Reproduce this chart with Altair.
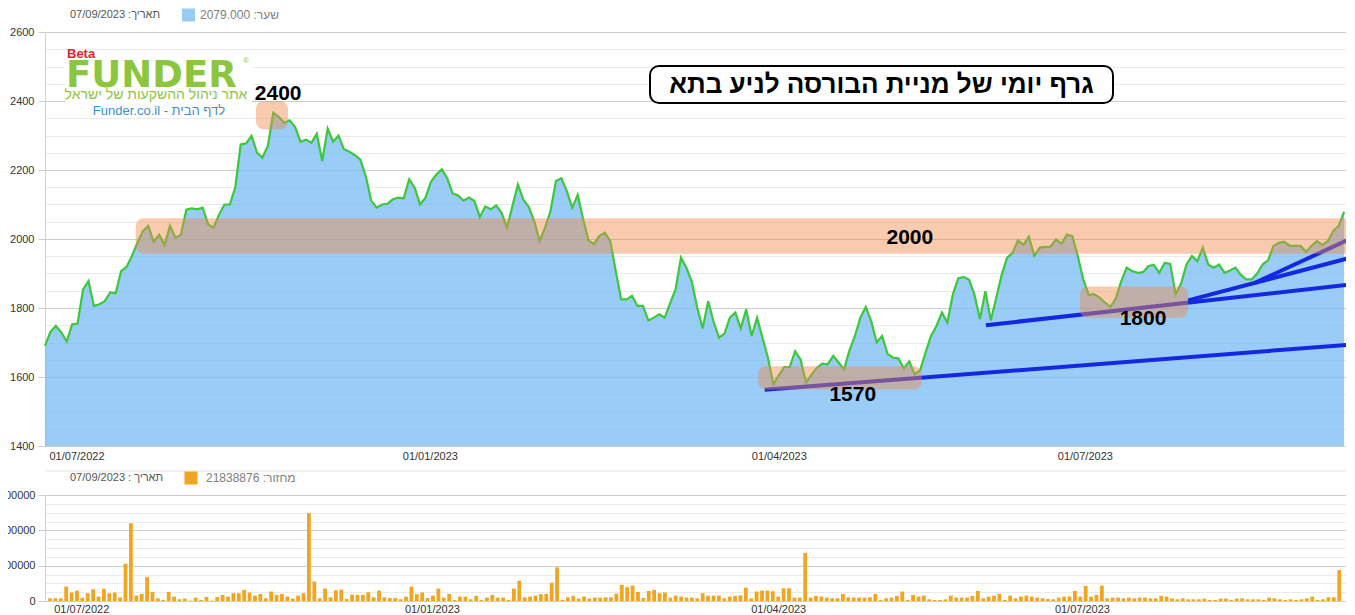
import altair as alt
import pandas as pd

# ---------------- data ----------------
price = [
    1690, 1731, 1748, 1729, 1703, 1753, 1755, 1854, 1878, 1806,
    1811, 1820, 1845, 1843, 1907, 1919, 1951, 1989, 2023, 2038,
    1992, 2012, 1983, 2038, 2004, 2012, 2085, 2089, 2086, 2091,
    2043, 2033, 2070, 2100, 2100, 2149, 2274, 2277, 2299, 2250,
    2236, 2270, 2366, 2354, 2337, 2344, 2325, 2282, 2288, 2279,
    2305, 2226, 2320, 2282, 2300, 2260, 2253, 2243, 2231, 2183,
    2112, 2091, 2100, 2102, 2115, 2120, 2118, 2173, 2149, 2100,
    2120, 2166, 2187, 2202, 2176, 2132, 2126, 2111, 2120, 2110,
    2064, 2094, 2086, 2097, 2076, 2033, 2096, 2158, 2114, 2093,
    2052, 1994, 2033, 2081, 2168, 2176, 2139, 2091, 2128, 2057,
    1996, 1985, 2009, 2018, 1994, 1907, 1825, 1825, 1835, 1806,
    1806, 1764, 1772, 1782, 1772, 1813, 1854, 1946, 1917, 1876,
    1801, 1741, 1820, 1760, 1714, 1726, 1772, 1787, 1741, 1796,
    1719, 1772, 1714, 1656, 1579, 1605, 1629, 1629, 1675, 1651,
    1584, 1606, 1627, 1639, 1637, 1661, 1642, 1622, 1677, 1719,
    1772, 1803, 1762, 1700, 1719, 1667, 1656, 1654, 1625, 1645,
    1608, 1620, 1671, 1719, 1748, 1787, 1758, 1838, 1886, 1890,
    1882, 1838, 1768, 1849, 1764, 1830, 1896, 1946, 1960, 1996,
    1983, 2007, 1951, 1975, 1977, 1978, 1999, 1986, 2013, 2008,
    1951, 1883, 1838, 1840, 1830, 1816, 1803, 1828, 1878, 1917,
    1907, 1902, 1904, 1922, 1925, 1902, 1931, 1928, 1840, 1871,
    1926, 1951, 1936, 1975, 1926, 1917, 1926, 1902, 1909, 1917,
    1896, 1883, 1883, 1900, 1926, 1938, 1980, 1989, 1992, 1980,
    1980, 1980, 1963, 1980, 1994, 1983, 1994, 2023, 2038, 2079,
]

# turnover, millions of shares
volume_m = [
    1.9, 1.9, 1.9, 10.2, 6.0, 7.4, 2.4, 5.5, 8.3, 3.1,
    8.6, 5.5, 6.0, 2.6, 26.4, 55.0, 3.8, 5.0, 16.9, 6.4,
    1.9, 0.7, 6.4, 3.1, 1.2, 1.7, 0.3, 2.4, 0.7, 2.9,
    0.3, 2.9, 4.3, 3.1, 5.5, 5.5, 7.9, 6.0, 3.8, 5.0,
    1.9, 6.7, 4.3, 5.0, 3.1, 1.7, 3.8, 5.5, 62.1, 13.8,
    1.9, 8.8, 2.6, 7.6, 8.1, 1.4, 4.5, 4.3, 4.3, 6.2,
    2.6, 7.4, 2.6, 2.1, 2.1, 1.2, 3.1, 10.2, 4.8, 6.0,
    2.1, 3.8, 8.8, 2.4, 5.0, 0.7, 3.1, 3.1, 1.2, 3.6,
    0.7, 2.4, 4.3, 2.4, 2.4, 0.7, 8.8, 14.3, 2.6, 3.1,
    3.8, 4.8, 5.0, 12.9, 23.8, 0.7, 2.6, 3.6, 1.7, 3.1,
    1.7, 2.4, 2.4, 2.6, 2.6, 5.2, 11.4, 9.8, 10.9, 6.4,
    2.1, 7.1, 7.9, 5.5, 6.0, 2.4, 3.8, 3.1, 2.4, 2.4,
    1.9, 5.5, 3.8, 3.8, 3.8, 1.9, 3.1, 3.6, 4.0, 9.5,
    1.9, 6.7, 7.4, 7.4, 6.9, 3.1, 9.0, 9.0, 2.4, 2.4,
    34.0, 2.4, 3.6, 3.1, 2.4, 1.9, 1.9, 5.0, 2.6, 2.4,
    2.4, 2.4, 2.6, 5.0, 0.7, 1.9, 2.4, 3.6, 6.7, 0.7,
    4.3, 3.1, 3.8, 1.2, 0.7, 0.7, 1.2, 3.8, 2.4, 2.4,
    2.4, 3.6, 7.1, 1.9, 3.1, 3.8, 5.0, 0.7, 3.8, 1.9,
    3.1, 3.8, 3.1, 2.4, 1.9, 1.4, 1.2, 2.4, 3.1, 3.1,
    7.1, 3.1, 10.7, 3.1, 4.3, 10.9, 1.9, 2.4, 2.4, 1.9,
    2.4, 1.9, 2.4, 2.4, 1.9, 1.9, 3.6, 3.1, 1.9, 1.2,
    1.9, 1.2, 1.2, 1.2, 1.7, 0.7, 0.7, 1.7, 1.7, 0.7,
    1.7, 1.9, 1.2, 1.2, 1.2, 0.7, 2.4, 1.9, 1.2, 0.7,
    1.2, 0.7, 1.2, 1.9, 3.1, 0.7, 1.2, 2.6, 2.6, 21.838876,
]

x_tick_pos = [5.8, 70.8, 135.0, 191.3]
x_tick_txt = ["01/07/2022", "01/01/2023", "01/04/2023", "01/07/2023"]

# highlighted zones (index range, price range)
band_i = [38.8, 16.7, 131.2, 190.4]
band_i2 = [44.7, 240.6, 161.3, 210.3]
band_v = [2318, 1957, 1564, 1772]
band_v2 = [2400, 2060, 1631, 1862]

band_label_text = ["2400", "2000", "1570", "1800"]
band_label_i = [42.9, 159.1, 148.6, 202.0]
band_label_v = [2420, 2003, 1548, 1768]

# support trend lines: start / end points
trend_name = ["t1", "t1", "t2", "t2", "t3", "t3", "t4", "t4"]
trend_i = [132.4, 239.5, 173.1, 239.5, 210.3, 239.5, 222.6, 239.5]
trend_v = [1563, 1693, 1750, 1867, 1822, 1943, 1873, 1996]

title_text = "גרף יומי של מניית הבורסה לניע בתא"
RLE, PDF = "\u202b", "\u202c"
last_date = "07/09/2023"
last_price = "2079.000"
last_volume = "21838876"

# ---------------- frames ----------------
price_df = pd.DataFrame({"i": list(range(len(price))), "v": price})
vol_df = pd.DataFrame({"i": list(range(len(volume_m))),
                       "vol": [round(x * 1e6) for x in volume_m]})
band_df = pd.DataFrame({"i": band_i, "i2": band_i2, "v": band_v, "v2": band_v2})
blabel_df = pd.DataFrame({"i": band_label_i, "v": band_label_v, "t": band_label_text})
trend_df = pd.DataFrame({"name": trend_name, "i": trend_i, "v": trend_v})
one = pd.DataFrame({"a": [0]})

FONT = "Liberation Sans, Arial, DejaVu Sans, sans-serif"
W, H_TOP, H_BOT = 1310, 414, 106

label_expr = "''"
for p, t in reversed(list(zip(x_tick_pos, x_tick_txt))):
    label_expr = f"datum.value == {p} ? '{t}' : ({label_expr})"

xscale = alt.Scale(domain=[0, 241], nice=False, zero=False)
yscale_top = alt.Scale(domain=[1400, 2600], nice=False, zero=False)
yscale_bot = alt.Scale(domain=[0, 75000000], nice=False)


def x_axis(pad):
    return alt.Axis(values=x_tick_pos, labelExpr=label_expr, title=None, grid=False,
                    ticks=False, domain=False, labelFont=FONT, labelFontSize=11,
                    labelColor="#333333", labelPadding=pad, labelFlush=False,
                    labelOverlap=False)


xaxis_top = x_axis(4)
xaxis_bot = x_axis(2)

yaxis_top = alt.Axis(
    values=list(range(1400, 2601, 50)), format="d",
    labelExpr="datum.value % 200 == 0 ? datum.label : ''",
    title=None, grid=True,
    gridColor=alt.condition("datum.value % 200 == 0", alt.value("#cdcdcd"), alt.value("#ebebeb")),
    tickColor=alt.condition("datum.value % 200 == 0", alt.value("#cdcdcd"), alt.value("transparent")),
    tickSize=7, domainColor="#d0d0d0", labelPadding=4, labelFont=FONT,
    labelFontSize=11, labelColor="#333333", labelOverlap=False)

yaxis_bot = alt.Axis(
    values=[k * 6250000 for k in range(13)], format="d",
    labelExpr="datum.value % 25000000 == 0 ? datum.label : ''",
    title=None, grid=True,
    gridColor=alt.condition("datum.value % 25000000 == 0", alt.value("#cdcdcd"), alt.value("#ebebeb")),
    tickColor=alt.condition("datum.value % 25000000 == 0", alt.value("#cdcdcd"), alt.value("transparent")),
    tickSize=7, domainColor="#d0d0d0", labelPadding=3, labelFont=FONT,
    labelFontSize=11, labelColor="#333333", labelOverlap=False)

X = lambda f="i": alt.X(f"{f}:Q", scale=xscale, axis=xaxis_top)
Y = lambda f="v": alt.Y(f"{f}:Q", scale=yscale_top, axis=yaxis_top)

area = alt.Chart(price_df).mark_area(color="#77bbf3", opacity=0.75).encode(
    x=X(), y=Y(), y2=alt.datum(1400))
line = alt.Chart(price_df).mark_line(color="#3cc83c", strokeWidth=2.2).encode(x=X(), y=Y())
trend = alt.Chart(trend_df).mark_line(color="#1428e0", strokeWidth=4, strokeCap="butt",
                                      strokeJoin="round").encode(
    x=X(), y=Y(), detail="name:N")
bands = alt.Chart(band_df).mark_rect(color="#f08a4b", opacity=0.45, cornerRadius=8).encode(
    x=X(), x2="i2:Q", y=Y(), y2="v2:Q")
blabels = alt.Chart(blabel_df).mark_text(font=FONT, fontSize=21, fontWeight="bold",
                                          color="black").encode(x=X(), y=Y(), text="t:N")

# logo
logo_box = alt.Chart(one).mark_rect(color="white").encode(
    x=alt.value(20), x2=alt.value(207), y=alt.value(19), y2=alt.value(85))
logo_beta = alt.Chart(one).mark_text(text="Beta", font=FONT, fontSize=13, fontWeight="bold",
                                     color="#e0262c", align="left", baseline="middle").encode(
    x=alt.value(22), y=alt.value(22))
logo_main = alt.Chart(one).mark_text(text="FUNDER", font="DejaVu Sans", fontSize=37,
                                     fontWeight="bold", color="#8cc63f", align="left",
                                     baseline="middle").encode(x=alt.value(21), y=alt.value(44))
logo_reg = alt.Chart(one).mark_text(text="®", font=FONT, fontSize=8, color="#8cc63f").encode(
    x=alt.value(201), y=alt.value(29))
logo_tag = alt.Chart(one).mark_text(text="אתר ניהול ההשקעות של ישראל", font=FONT, fontSize=14,
                                    color="#8cc63f", align="center", baseline="middle").encode(
    x=alt.value(111), y=alt.value(63))
logo_link = alt.Chart(one).mark_text(text="Funder.co.il - לדף הבית", font=FONT, fontSize=13,
                                     color="#3d8fd1", align="center", baseline="middle").encode(
    x=alt.value(114), y=alt.value(79))

# title box
title_box = alt.Chart(one).mark_rect(fill="white", stroke="black", strokeWidth=2,
                                     cornerRadius=9).encode(
    x=alt.value(605), x2=alt.value(1068), y=alt.value(34), y2=alt.value(71))
title = alt.Chart(one).mark_text(text=title_text, font=FONT, fontSize=26, fontWeight="bold",
                                 color="black", align="center", baseline="middle").encode(
    x=alt.value(836.5), y=alt.value(53))

# legend of the top panel
leg1 = alt.Chart(one).mark_text(text=RLE + "תאריך: " + last_date + PDF, font=FONT, fontSize=11,
                                color="#555555", align="left", baseline="middle").encode(
    x=alt.value(25), y=alt.value(-17))
leg_sq = alt.Chart(one).mark_square(size=169, color="#99ccf5", filled=True, opacity=1).encode(
    x=alt.value(143.5), y=alt.value(-17))
leg2 = alt.Chart(one).mark_text(text=RLE + "שער: " + last_price + PDF, font=FONT, fontSize=12,
                                color="#808080", align="left", baseline="middle").encode(
    x=alt.value(155), y=alt.value(-17))

top = alt.layer(area, line, trend, bands, blabels, logo_box, logo_beta, logo_main, logo_reg,
                logo_tag, logo_link, title_box, title, leg1, leg_sq, leg2).properties(
    width=W, height=H_TOP)

# ---------------- volume panel ----------------
bars = alt.Chart(vol_df).mark_bar(color="#f2a51f", size=3.8).encode(
    x=alt.X("i:Q", scale=xscale, axis=xaxis_bot),
    y=alt.Y("vol:Q", scale=yscale_bot, axis=yaxis_bot))
sep = alt.Chart(one).mark_rule(color="#e4e4e4").encode(
    x=alt.value(0), x2=alt.value(W), y=alt.value(-24))
vleg1 = alt.Chart(one).mark_text(text=RLE + "תאריך : " + last_date + PDF, font=FONT, fontSize=11,
                                 color="#555555", align="left", baseline="middle").encode(
    x=alt.value(25), y=alt.value(-17))
vleg_sq = alt.Chart(one).mark_square(size=169, color="#f2a51f", filled=True, opacity=1).encode(
    x=alt.value(146), y=alt.value(-17))
vleg2 = alt.Chart(one).mark_text(text=RLE + "מחזור: " + last_volume + PDF, font=FONT, fontSize=12,
                                 color="#808080", align="left", baseline="middle").encode(
    x=alt.value(161), y=alt.value(-17))

bottom = alt.layer(sep, bars, vleg1, vleg_sq, vleg2).properties(width=W, height=H_BOT)

chart = alt.vconcat(top, bottom, spacing=9).properties(
    padding={"left": -22, "top": 0, "right": -10, "bottom": 0},
    background="white",
).configure_view(stroke=None)

chart.save("out.html", embed_options={"renderer": "svg", "actions": False})
